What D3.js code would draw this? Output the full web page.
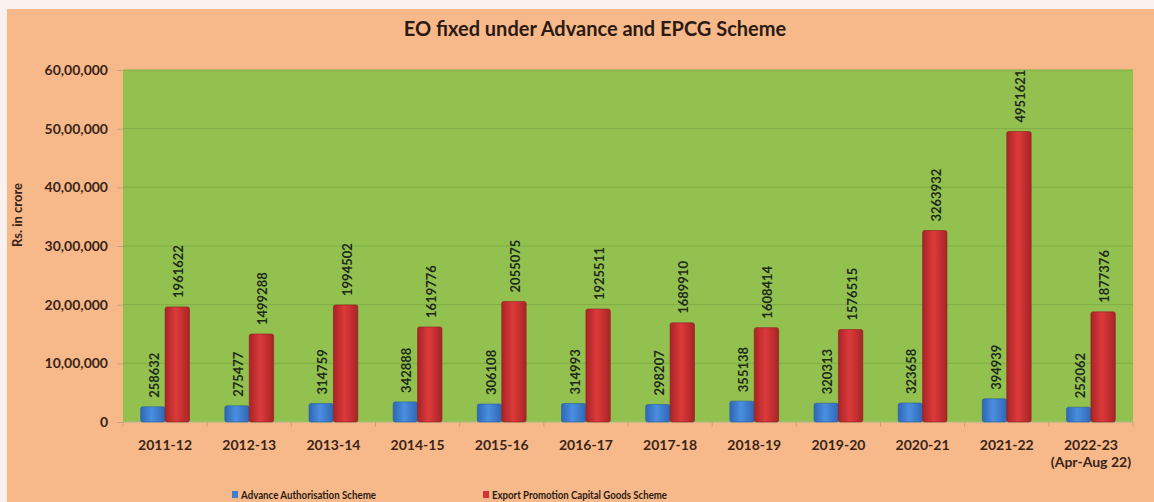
<!DOCTYPE html>
<html>
<head>
<meta charset="utf-8">
<script src="https://cdn.jsdelivr.net/npm/d3@7"></script>
<style>
  body { margin: 0; background: #f9f1ed; overflow: hidden; }
  svg text { font-family: Lato, "Open Sans", sans-serif; }
</style>
</head>
<body>
<div id="chart"></div>
<script>
// chart data
var years = ['2011-12', '2012-13', '2013-14', '2014-15', '2015-16', '2016-17',
  '2017-18', '2018-19', '2019-20', '2020-21', '2021-22', '2022-23'];
var yearNotes = ['', '', '', '', '', '', '', '', '', '', '', '(Apr-Aug 22)'];
var advance = [258632, 275477, 314759, 342888, 306108, 314993, 298207, 355138, 320313, 323658, 394939, 252062];
var epcg = [1961622, 1499288, 1994502, 1619776, 2055075, 1925511, 1689910, 1608414, 1576515, 3263932, 4951621, 1877376];
var seriesNames = ['Advance Authorisation Scheme', 'Export Promotion Capital Goods Scheme'];
var yTicks = [0, 1000000, 2000000, 3000000, 4000000, 5000000, 6000000];

var svgWidth = 1154;
var svgHeight = 502;
var margins = { top: 70, right: 21, bottom: 80, left: 123 };
var chartWidth = 1133 - margins.left;
var chartHeight = 422 - margins.top;

var svg = d3.select('#chart')
  .append('svg')
  .attr('width', svgWidth)
  .attr('height', svgHeight)
  .style('display', 'block');

// orange card
svg.append('rect')
  .attr('x', 7).attr('y', 9)
  .attr('width', svgWidth - 7).attr('height', svgHeight - 9)
  .attr('fill', '#f7b98a');

var defs = svg.append('defs');
function barGradient(id, edge, mid) {
  var g = defs.append('linearGradient').attr('id', id)
    .attr('x1', '0%').attr('x2', '100%').attr('y1', '0%').attr('y2', '0%');
  g.append('stop').attr('offset', '0%').attr('stop-color', edge);
  g.append('stop').attr('offset', '45%').attr('stop-color', mid);
  g.append('stop').attr('offset', '100%').attr('stop-color', edge);
}
barGradient('gBlue', '#2f67b5', '#4a8ee0');
barGradient('gRed', '#a82426', '#dd3a3a');

var chartGroup = svg.append('g')
  .attr('transform', `translate(${margins.left}, ${margins.top})`);

// plot area
chartGroup.append('rect')
  .attr('width', chartWidth).attr('height', chartHeight)
  .attr('fill', '#93c150');

var x0 = d3.scaleBand().domain(years).range([0, chartWidth]).paddingInner(0.42).paddingOuter(0.21);
var x1 = d3.scaleBand().domain([0, 1]).range([0, x0.bandwidth()]);
var y = d3.scaleLinear().domain([0, 6000000]).range([chartHeight, 0]);

// grid lines
chartGroup.selectAll('.grid')
  .data(yTicks.slice(1))
  .enter().append('line')
  .attr('x1', 0).attr('x2', chartWidth)
  .attr('y1', d => y(d)).attr('y2', d => y(d))
  .attr('stroke', '#7fae45').attr('stroke-width', 1);

// y axis
var fmt = d => d === 0 ? '0' : d.toLocaleString('en-IN');
var leftAxis = d3.axisLeft(y).tickValues(yTicks).tickFormat(fmt).tickSize(6).tickPadding(9);
var yAxis = chartGroup.append('g').call(leftAxis);
yAxis.select('.domain').remove();
yAxis.selectAll('line').attr('stroke', '#c9a080');
yAxis.selectAll('text')
  .attr('font-size', 14).attr('font-weight', 'bold').attr('fill', '#3a2418');

// x axis
var xStep = chartWidth / years.length;
var xAxis = chartGroup.append('g').attr('transform', `translate(0, ${chartHeight})`);
xAxis.append('line').attr('x1', 0).attr('x2', chartWidth).attr('stroke', '#a6b98a');
xAxis.selectAll('.tk')
  .data(d3.range(years.length + 1))
  .enter().append('line')
  .attr('x1', d => d * xStep).attr('x2', d => d * xStep)
  .attr('y1', 0).attr('y2', 5)
  .attr('stroke', '#c9a080');
var xLabels = xAxis.selectAll('.xl')
  .data(years)
  .enter().append('text')
  .attr('x', d => x0(d) + x0.bandwidth() / 2)
  .attr('y', 28)
  .attr('text-anchor', 'middle')
  .attr('font-size', 14).attr('font-weight', 'bold').attr('fill', '#3a2418');
xLabels.append('tspan').text(d => d);
xLabels.append('tspan')
  .attr('x', d => x0(d) + x0.bandwidth() / 2)
  .attr('dy', 17)
  .text((d, i) => yearNotes[i]);

// bars
var groups = chartGroup.selectAll('.year')
  .data(years.map((yr, i) => ({ yr: yr, vals: [advance[i], epcg[i]] })))
  .enter().append('g')
  .attr('transform', d => `translate(${x0(d.yr)}, 0)`);

groups.selectAll('rect')
  .data(d => d.vals)
  .enter().append('rect')
  .attr('x', (d, i) => x1(i))
  .attr('y', d => y(d))
  .attr('width', x1.bandwidth())
  .attr('height', d => chartHeight - y(d))
  .attr('rx', 2)
  .attr('fill', (d, i) => i === 0 ? 'url(#gBlue)' : 'url(#gRed)')
  .attr('stroke', (d, i) => i === 0 ? '#2a5a9e' : '#8e1e20')
  .attr('stroke-width', 0.6);

// value labels
groups.selectAll('.val')
  .data(d => d.vals)
  .enter().append('text')
  .attr('transform', (d, i) => `translate(${x1(i) + x1.bandwidth() / 2 + 6}, ${y(d) - 9}) rotate(-90)`)
  .attr('font-size', 13).attr('font-weight', 'bold').attr('fill', '#1e2a18')
  .text(d => d);

// title
svg.append('text')
  .attr('x', 595).attr('y', 36)
  .attr('text-anchor', 'middle')
  .attr('font-size', 20).attr('font-weight', 'bold').attr('fill', '#2b1a12')
  .text('EO fixed under Advance and EPCG Scheme');

// y axis title
svg.append('text')
  .attr('transform', 'translate(22, 215) rotate(-90)')
  .attr('text-anchor', 'middle')
  .attr('font-size', 13).attr('font-weight', 'bold').attr('fill', '#3a2418')
  .attr('textLength', 64).attr('lengthAdjust', 'spacingAndGlyphs')
  .text('Rs. in crore');

// legend
var legendX = [232, 483];
var legendW = [135, 175];
var legend = svg.selectAll('.legend')
  .data(seriesNames)
  .enter().append('g')
  .attr('transform', (d, i) => `translate(${legendX[i]}, 490)`);
legend.append('rect')
  .attr('y', 1)
  .attr('width', 6).attr('height', 7)
  .attr('fill', (d, i) => i === 0 ? '#3a7fd2' : '#d03434');
legend.append('text')
  .attr('x', 9).attr('y', 9)
  .attr('font-size', 12).attr('font-weight', 'bold').attr('fill', '#2b1a12')
  .attr('textLength', (d, i) => legendW[i]).attr('lengthAdjust', 'spacingAndGlyphs')
  .text(d => d);
</script>
</body>
</html>
